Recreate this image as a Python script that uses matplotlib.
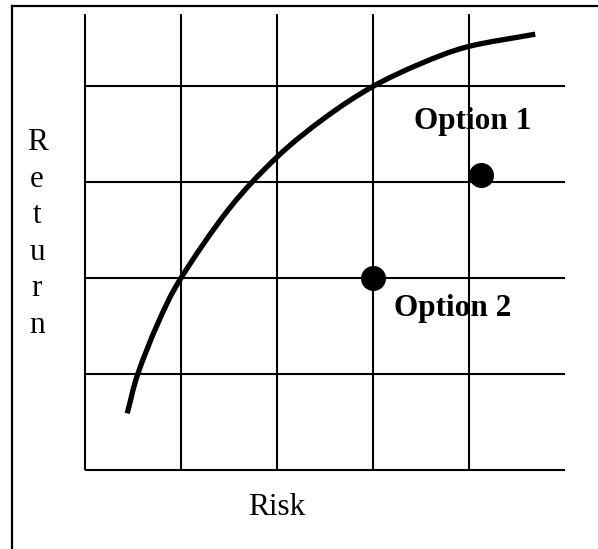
import matplotlib
matplotlib.use('Agg')
import matplotlib.pyplot as plt
import numpy as np
from matplotlib.lines import Line2D
from matplotlib.path import Path
from matplotlib.patches import PathPatch

# curve (risk, return)
curve_x = [0.44, 0.55, 0.76, 1.00, 1.50, 2.00, 2.50, 2.99, 3.49, 3.99, 4.69]
curve_y = [0.59, 1.00, 1.53, 2.00, 2.72, 3.26, 3.67, 3.99, 4.23, 4.41, 4.54]

option_names = ['Option 1', 'Option 2']
option_x = [4.125, 3.0]
option_y = [3.07, 2.0]
label_x = [4.04, 3.83]
label_y = [3.55, 1.6]

grid_x = [0, 1, 2, 3, 4]
grid_y = [0, 1, 2, 3, 4]


def smooth_path(xs, ys):
    # catmull-rom through the read points, as cubic bezier segments
    p = np.column_stack([xs, ys])
    p = np.vstack([2 * p[0] - p[1], p, 2 * p[-1] - p[-2]])
    verts = [p[1]]
    codes = [Path.MOVETO]
    for i in range(1, len(p) - 2):
        c1 = p[i] + (p[i + 1] - p[i - 1]) / 6
        c2 = p[i + 1] - (p[i + 2] - p[i]) / 6
        verts += [c1, c2, p[i + 1]]
        codes += [Path.CURVE4] * 3
    return Path(verts, codes)


W, H = 598, 549
fig = plt.figure(figsize=(W / 100, H / 100), dpi=100)
ax = fig.add_axes([85 / W, 79 / H, 480 / W, 456 / H])
ax.set_xlim(0, 5)
ax.set_ylim(0, 4.75)
ax.axis('off')

serif = 'Liberation Serif'
fs = 22.5

# outer frame (left and top edges only, the rest is cut off)
fig.add_artist(Line2D([12 / W, 12 / W], [0, 1 - 6 / H], color='black', lw=1.6))
fig.add_artist(Line2D([12 / W, 1], [1 - 6 / H, 1 - 6 / H], color='black', lw=1.6))

# grid
ax.vlines(grid_x, 0, 4.75, color='black', lw=1.5, clip_on=False)
ax.hlines(grid_y, 0, 5, color='black', lw=1.5, clip_on=False)

# efficient frontier curve
ax.add_patch(PathPatch(smooth_path(curve_x, curve_y), facecolor='none',
                       edgecolor='black', lw=3.8, capstyle='butt', clip_on=False))

# options
ax.plot(option_x, option_y, 'o', color='black', markersize=17, zorder=5)
for name, lx, ly in zip(option_names, label_x, label_y):
    ax.text(lx, ly, name, family=serif, fontsize=fs, fontweight='bold',
            ha='center', va='baseline')

# axis labels
ax.text(2.0, -0.47, 'Risk', family=serif, fontsize=fs, ha='center', va='baseline',
        clip_on=False)
ax.text(-0.5, 3.56, '\n'.join('Return'), family=serif, fontsize=fs, ha='center',
        va='top', linespacing=1.34, clip_on=False)

fig.savefig('out.png', dpi=100, facecolor='white')
plt.close(fig)
